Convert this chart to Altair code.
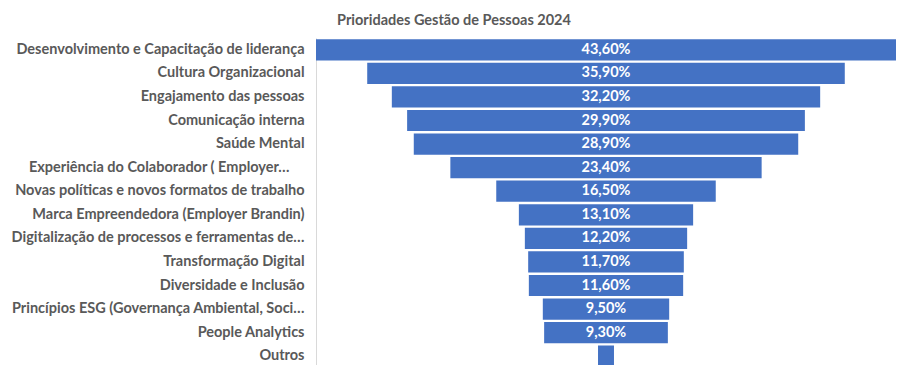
import altair as alt
import pandas as pd

categories = [
    "Desenvolvimento e Capacitação de liderança",
    "Cultura Organizacional",
    "Engajamento das pessoas",
    "Comunicação interna",
    "Saúde Mental",
    "Experiência do Colaborador ( Employer…",
    "Novas políticas e novos formatos de trabalho",
    "Marca Empreendedora (Employer Brandin)",
    "Digitalização de processos e ferramentas de…",
    "Transformação Digital",
    "Diversidade e Inclusão",
    "Princípios ESG (Governança Ambiental, Soci…",
    "People Analytics",
    "Outros",
]
values = [43.6, 35.9, 32.2, 29.9, 28.9, 23.4, 16.5, 13.1, 12.2, 11.7, 11.6, 9.5, 9.3, 1.2]
labels = ["43,60%", "35,90%", "32,20%", "29,90%", "28,90%", "23,40%", "16,50%",
          "13,10%", "12,20%", "11,70%", "11,60%", "9,50%", "9,30%", ""]

df = pd.DataFrame({"cat": categories, "value": values, "label": labels})
df["lo"] = -df["value"] / 2
df["hi"] = df["value"] / 2
df["mid"] = 0.0

y = alt.Y("cat:N", sort=categories, title=None,
          scale=alt.Scale(paddingInner=0.1, paddingOuter=0.05),
          axis=alt.Axis(ticks=False, labelFont="Lato", labelFontSize=14.5,
                        labelFontWeight="bold", labelColor="#595959",
                        labelPadding={"condition": {"test": "indexof(datum.label, 'Experi') == 0", "value": 27}, "value": 12},
                        labelLimit=400,
                        domainColor="#d9d9d9", domainWidth=1))
xs = alt.Scale(domain=[-21.8, 21.8], nice=False, zero=False)

bars = alt.Chart(df).mark_bar(color="#4472C4").encode(
    y=y,
    x=alt.X("lo:Q", scale=xs, axis=None),
    x2="hi:Q",
)
text = alt.Chart(df).mark_text(color="white", font="Lato", fontSize=14.5,
                               fontWeight="bold").encode(
    y=alt.Y("cat:N", sort=categories),
    x=alt.X("mid:Q", scale=xs),
    text="label:N",
)

chart = (bars + text).properties(
    width=580, height=330,
    autosize=alt.AutoSizeParams(type="none"),
    padding={"left": 308, "top": 30, "right": 3, "bottom": 0},
    title=alt.TitleParams("Prioridades Gestão de Pessoas 2024", font="Lato",
                          fontSize=14.5, fontWeight="bold", color="#595959",
                          anchor="middle", dx=-152, offset=10),
).configure_view(stroke=None)

chart.save("out.html", embed_options={"renderer": "svg", "actions": False})
